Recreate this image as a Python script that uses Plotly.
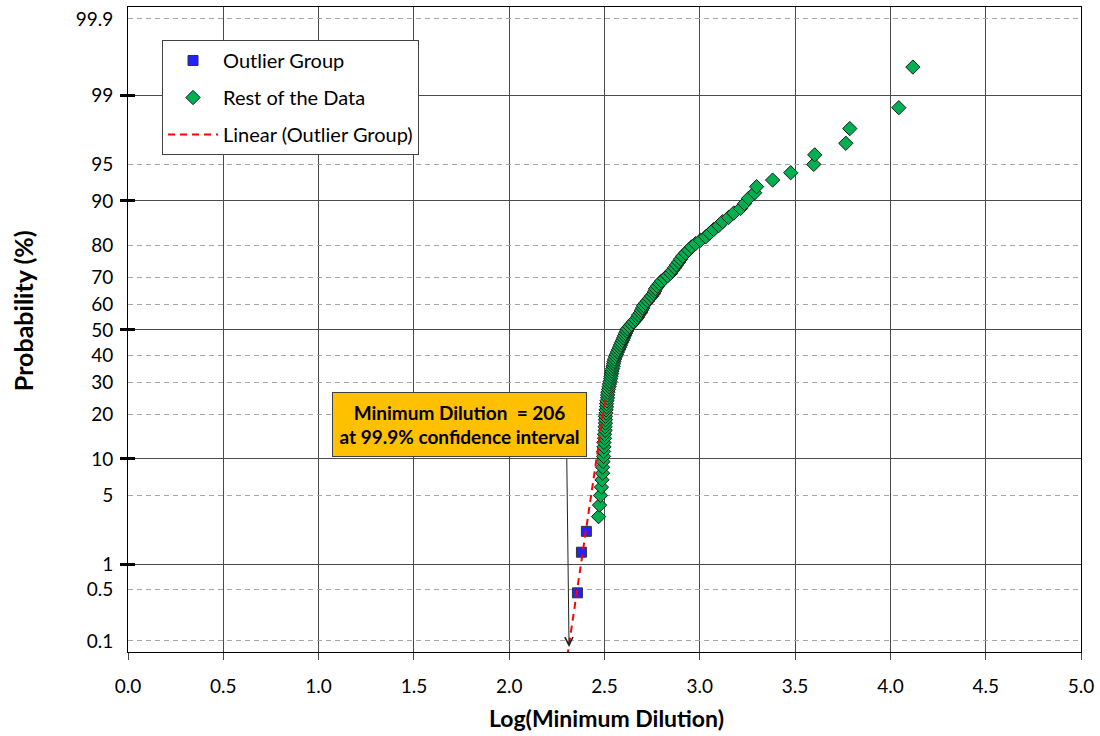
import numpy as np
import plotly.graph_objects as go
from statistics import NormalDist

# ---------------- data ----------------
# Outlier group: log10(minimum dilution) and cumulative probability (%)
outlier_x = [2.358, 2.379, 2.405]
outlier_p = [0.45, 1.36, 2.27]

# Rest of the data: log10(minimum dilution) and cumulative probability (%)
rest_x = [
    2.469, 2.474, 2.479, 2.484, 2.487, 2.490, 2.490, 2.492, 2.495, 2.495,
    2.497, 2.497, 2.500, 2.500, 2.503, 2.503, 2.505, 2.505, 2.505, 2.508,
    2.508, 2.511, 2.511, 2.513, 2.516, 2.516, 2.518, 2.521, 2.524, 2.526,
    2.529, 2.532, 2.534, 2.537, 2.539, 2.542, 2.545, 2.547, 2.550, 2.553,
    2.558, 2.563, 2.568, 2.574, 2.579, 2.584, 2.589, 2.595, 2.600, 2.605,
    2.610, 2.616, 2.621, 2.631, 2.642, 2.652, 2.663, 2.673, 2.679, 2.689,
    2.694, 2.700, 2.705, 2.715, 2.726, 2.736, 2.747, 2.757, 2.763, 2.768,
    2.778, 2.789, 2.799, 2.815, 2.831, 2.847, 2.857, 2.868, 2.878, 2.889,
    2.899, 2.910, 2.925, 2.941, 2.957, 2.978, 3.004, 3.031, 3.052, 3.073,
    3.099, 3.120, 3.151, 3.178, 3.214, 3.235, 3.256, 3.288, 3.298, 3.382,
    3.477, 3.598, 3.603, 3.766, 3.787, 4.044, 4.118,
]
rest_p = [
    3.18, 4.09, 5.00, 5.91, 6.82, 7.73, 8.64, 9.55, 10.45, 11.36,
    12.27, 13.18, 14.09, 15.00, 15.91, 16.82, 17.73, 18.64, 19.55, 20.45,
    21.36, 22.27, 23.18, 24.09, 25.00, 25.91, 26.82, 27.73, 28.64, 29.55,
    30.45, 31.36, 32.27, 33.18, 34.09, 35.00, 35.91, 36.82, 37.73, 38.64,
    39.55, 40.45, 41.36, 42.27, 43.18, 44.09, 45.00, 45.91, 46.82, 47.73,
    48.64, 49.55, 50.45, 51.36, 52.27, 53.18, 54.09, 55.00, 55.91, 56.82,
    57.73, 58.64, 59.55, 60.45, 61.36, 62.27, 63.18, 64.09, 65.00, 65.91,
    66.82, 67.73, 68.64, 69.55, 70.45, 71.36, 72.27, 73.18, 74.09, 75.00,
    75.91, 76.82, 77.73, 78.64, 79.55, 80.45, 81.36, 82.27, 83.18, 84.09,
    85.00, 85.91, 86.82, 87.73, 88.64, 89.55, 90.45, 91.36, 92.27, 93.18,
    94.09, 95.00, 95.91, 96.82, 97.73, 98.64, 99.55,
]

# Axis ticks
y_tick_probs = [0.1, 0.5, 1, 5, 10, 20, 30, 40, 50, 60, 70, 80, 90, 95, 99, 99.9]
y_tick_text = ["0.1", "0.5", "1", "5", "10", "20", "30", "40", "50", "60", "70", "80", "90", "95", "99", "99.9"]
y_major_probs = [1, 10, 50, 90, 99]
x_ticks = [0.0, 0.5, 1.0, 1.5, 2.0, 2.5, 3.0, 3.5, 4.0, 4.5, 5.0]

trend_x_range = [2.305, 2.507]
annotation_lines = ["Minimum Dilution\u00a0\u00a0= 206", "at 99.9% confidence interval"]

# ---------------- helpers ----------------
nd = NormalDist()


def zq(p):
    return nd.inv_cdf(p / 100.0)


outlier_z = [zq(p) for p in outlier_p]
rest_z = [zq(p) for p in rest_p]

# linear trendline of outlier group (z vs x)
slope, intercept = np.polyfit(outlier_x, outlier_z, 1)
trend_x = np.array(trend_x_range)
trend_z = slope * trend_x + intercept

FONT = "Lato"
GRID_SOLID = "#4a4a4a"
GRID_DASH = "#a6a6a6"
Y_RANGE = [-3.200, 3.209]

fig = go.Figure()

fig.add_trace(go.Scatter(
    x=outlier_x, y=outlier_z, mode="markers", name="Outlier Group",
    legendgroup="g1",
    marker=dict(symbol="square", size=10, color="#2222ff",
                line=dict(color="#333333", width=1)),
))
fig.add_trace(go.Scatter(
    x=rest_x, y=rest_z, mode="markers", name="Rest of the Data",
    legendgroup="g2",
    marker=dict(symbol="diamond", size=11, color="#00b050",
                line=dict(color="#1a1a1a", width=1)),
))
fig.add_trace(go.Scatter(
    x=trend_x, y=trend_z, mode="lines", name="Linear (Outlier Group)",
    legendgroup="g3",
    line=dict(color="#ff0000", width=2, dash="7px,5px"),
))
# helper traces to attach overlay axes (major tick marks / solid grid)
fig.add_trace(go.Scatter(x=[None], y=[None], yaxis="y2", showlegend=False, hoverinfo="skip"))
fig.add_trace(go.Scatter(x=[None], y=[None], yaxis="y3", showlegend=False, hoverinfo="skip"))

tick_z = [zq(p) for p in y_tick_probs]
major_z = [zq(p) for p in y_major_probs]

fig.update_layout(
    width=1100, height=736,
    margin=dict(l=128, r=19, t=7, b=84),
    paper_bgcolor="white", plot_bgcolor="white",
    font=dict(family=FONT, size=19, color="black"),
    showlegend=True,
    legend=dict(
        x=0.0357, y=0.9488, xanchor="left", yanchor="top",
        bgcolor="white", bordercolor="#404040", borderwidth=1,
        font=dict(family=FONT, size=20, color="black"),
        tracegroupgap=8, itemwidth=50,
    ),
    xaxis=dict(
        range=[0, 5], tickmode="array", tickvals=x_ticks,
        ticktext=[f"{v:.1f}" for v in x_ticks],
        showgrid=True, gridcolor=GRID_SOLID, gridwidth=1,
        ticks="outside", ticklen=7, tickcolor=GRID_SOLID, tickwidth=1,
        ticklabelstandoff=10,
        showline=True, linecolor="black", linewidth=1, mirror=True,
        zeroline=False,
        tickfont=dict(family=FONT, size=19),
    ),
    yaxis=dict(
        range=Y_RANGE, tickmode="array", tickvals=tick_z, ticktext=y_tick_text,
        showgrid=True, gridcolor=GRID_DASH, gridwidth=1, griddash="5px,4px",
        ticks="", ticklabelstandoff=10,
        showline=True, linecolor="black", linewidth=1, mirror=True,
        zeroline=False,
        tickfont=dict(family=FONT, size=19),
    ),
    yaxis2=dict(
        range=Y_RANGE, overlaying="y", side="left", anchor="x",
        tickmode="array", tickvals=major_z, showticklabels=False,
        showgrid=True, gridcolor=GRID_SOLID, gridwidth=1,
        ticks="inside", ticklen=7, tickwidth=3, tickcolor="black",
        zeroline=False, showline=False,
    ),
    yaxis3=dict(
        range=Y_RANGE, overlaying="y", side="left", anchor="x",
        tickmode="array", tickvals=major_z, showticklabels=False,
        showgrid=False,
        ticks="outside", ticklen=7, tickwidth=3, tickcolor="black",
        zeroline=False, showline=False,
    ),
)

# axis titles
fig.add_annotation(
    text="<b>Log(Minimum Dilution)</b>", xref="paper", yref="paper",
    x=0.5016, y=-0.1023, xanchor="center", yanchor="middle", showarrow=False,
    font=dict(family=FONT, size=23, color="black"),
)
fig.add_annotation(
    text="<b>Probability (%)</b>", xref="paper", yref="paper",
    x=-0.1102, y=0.530, xanchor="center", yanchor="middle", showarrow=False,
    textangle=-90, font=dict(family=FONT, size=25, color="black"),
)

# callout box
fig.add_annotation(
    text="<b>" + "<br>".join(annotation_lines) + "</b>",
    xref="paper", yref="paper", x=0.3478, y=0.352,
    xanchor="center", yanchor="middle", showarrow=False,
    width=251, height=61, align="center",
    bgcolor="#ffc000", bordercolor="#404040", borderwidth=1,
    font=dict(family=FONT, size=19, color="black"),
)
# arrow from the callout down to the 0.1% level
fig.add_annotation(
    text="", x=2.314, y=-3.15, xref="x", yref="y",
    ax=2.302, ay=-1.262, axref="x", ayref="y",
    showarrow=True, arrowhead=5, arrowsize=1.6, arrowwidth=1,
    arrowcolor="#222222",
)

fig.write_html(
    "out.html",
    config={"displayModeBar": False},
    post_script="document.body.style.margin='0px';",
)
